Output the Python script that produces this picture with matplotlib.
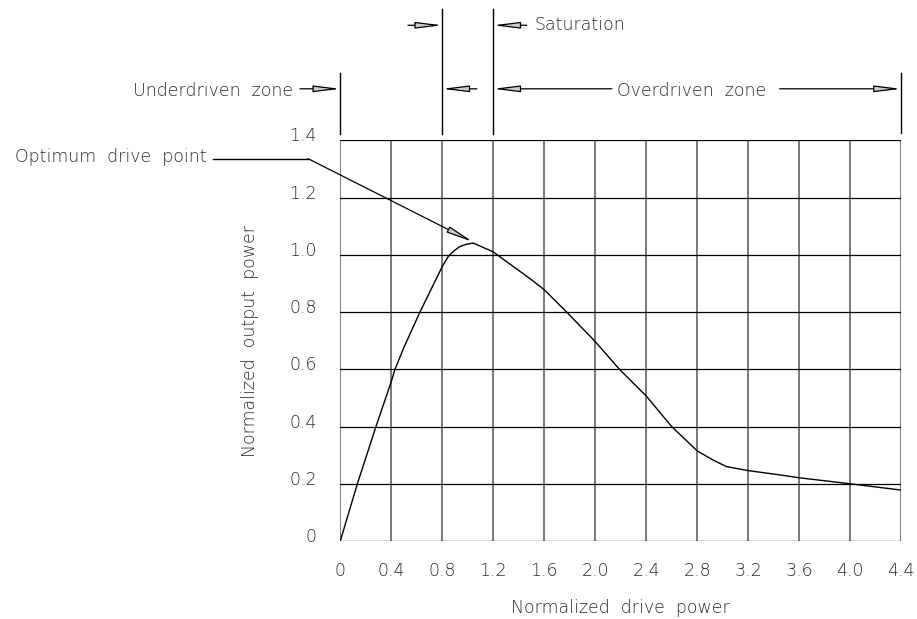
import matplotlib
matplotlib.use("Agg")
import matplotlib.pyplot as plt
from matplotlib.transforms import ScaledTranslation

plt.rcParams['font.family'] = ['DejaVu Sans']

# Data
drive = [0.0, 0.134, 0.28, 0.40, 0.429, 0.50, 0.625, 0.80, 0.847, 0.886, 0.939, 0.991,
         1.043, 1.10, 1.20, 1.50, 1.60, 1.776, 1.88, 2.00, 2.19, 2.40, 2.60, 2.80,
         2.925, 3.03, 3.20, 3.45, 3.60, 4.00, 4.40]
output = [0.0, 0.20, 0.40, 0.557, 0.60, 0.677, 0.80, 0.959, 0.994, 1.012, 1.029, 1.037,
          1.041, 1.030, 1.010, 0.913, 0.878, 0.80, 0.752, 0.697, 0.60, 0.507, 0.40, 0.315,
          0.283, 0.260, 0.246, 0.231, 0.221, 0.20, 0.178]

xticks = [0, 0.4, 0.8, 1.2, 1.6, 2.0, 2.4, 2.8, 3.2, 3.6, 4.0, 4.4]
xticklabels = ["0", "0.4", "0.8", "1.2", "1.6", "2.0", "2.4", "2.8", "3.2", "3.6", "4.0", "4.4"]
yticks = [0, 0.2, 0.4, 0.6, 0.8, 1.0, 1.2, 1.4]
yticklabels = ["0", "0.2", "0.4", "0.6", "0.8", "1.0", "1.2", "1.4"]

FS = 12.5
TC = '#2a2a2a'
fig = plt.figure(figsize=(9.17, 6.19), dpi=100)
ax = fig.add_axes([0.3711, 0.1260, 0.6115, 0.6473])
ax.set_xlim(0, 4.4)
ax.set_ylim(0, 1.4)

for x in xticks:
    ax.axvline(x, color='#555555', lw=1.1, zorder=1)
for y in yticks:
    ax.axhline(y, color='black', lw=0.9, zorder=1)
for s in ax.spines.values():
    s.set_visible(False)

ax.plot(drive, output, color='black', lw=1.0, zorder=3)

ax.set_xticks(xticks)
ax.set_xticklabels(xticklabels, fontsize=FS, color=TC, fontweight='light')
ax.set_yticks(yticks)
ax.set_yticklabels(yticklabels, fontsize=FS, color=TC, fontweight='light')
ax.tick_params(axis='x', length=0, pad=15)
ax.tick_params(axis='y', length=0, pad=17)
for lab in ax.get_yticklabels():
    lab.set_transform(lab.get_transform() + ScaledTranslation(0, 6/100, fig.dpi_scale_trans))

ax.set_xlabel("Normalized  drive  power", fontsize=FS, color=TC, labelpad=14, fontweight='light')
ax.set_ylabel("Normalized  output  power", fontsize=FS, color=TC, labelpad=22, fontweight='light')

# Annotation lines above the axes
kw = dict(color='black', lw=1.0, clip_on=False)
ax.plot([0.0, 0.0], [1.423, 1.636], **kw)
ax.plot([0.8, 0.8], [1.423, 1.860], **kw)
ax.plot([1.2, 1.2], [1.423, 1.860], **kw)
ax.plot([4.4, 4.4], [1.427, 1.636], **kw)

astyle = dict(arrowstyle='-|>,head_length=1.6,head_width=0.2', fc='#cccccc', ec='black',
              lw=0.9, shrinkA=0, shrinkB=0, mutation_scale=10)

def arrow(x0, y0, x1, y1):
    ax.annotate("", xy=(x1, y1), xytext=(x0, y0), xycoords='data', textcoords='data',
                arrowprops=astyle, annotation_clip=False)

yl = 1.580
yu = 1.802
arrow(-0.316, yl, 0.0, yl)
arrow(1.072, yl, 0.8, yl)
arrow(2.131, yl, 1.2, yl)
arrow(3.447, yl, 4.4, yl)
arrow(0.531, yu, 0.8, yu)
arrow(1.464, yu, 1.2, yu)

tkw = dict(fontsize=FS, color=TC, va='center', clip_on=False, fontweight='light')
ax.text(-0.371, yl - 0.008, "Underdriven  zone", ha='right', **tkw)
ax.text(2.17, yl - 0.008, "Overdriven  zone", ha='left', **tkw)
ax.text(1.527, yu, "Saturation", ha='left', **tkw)

# Optimum drive point leader
ax.plot([-0.998, -0.253], [1.336, 1.336], **kw)
arrow(-0.253, 1.336, 1.040, 1.045)
ax.text(-1.047, 1.34, "Optimum  drive  point", ha='right', **tkw)

fig.savefig("out.png", dpi=100)
